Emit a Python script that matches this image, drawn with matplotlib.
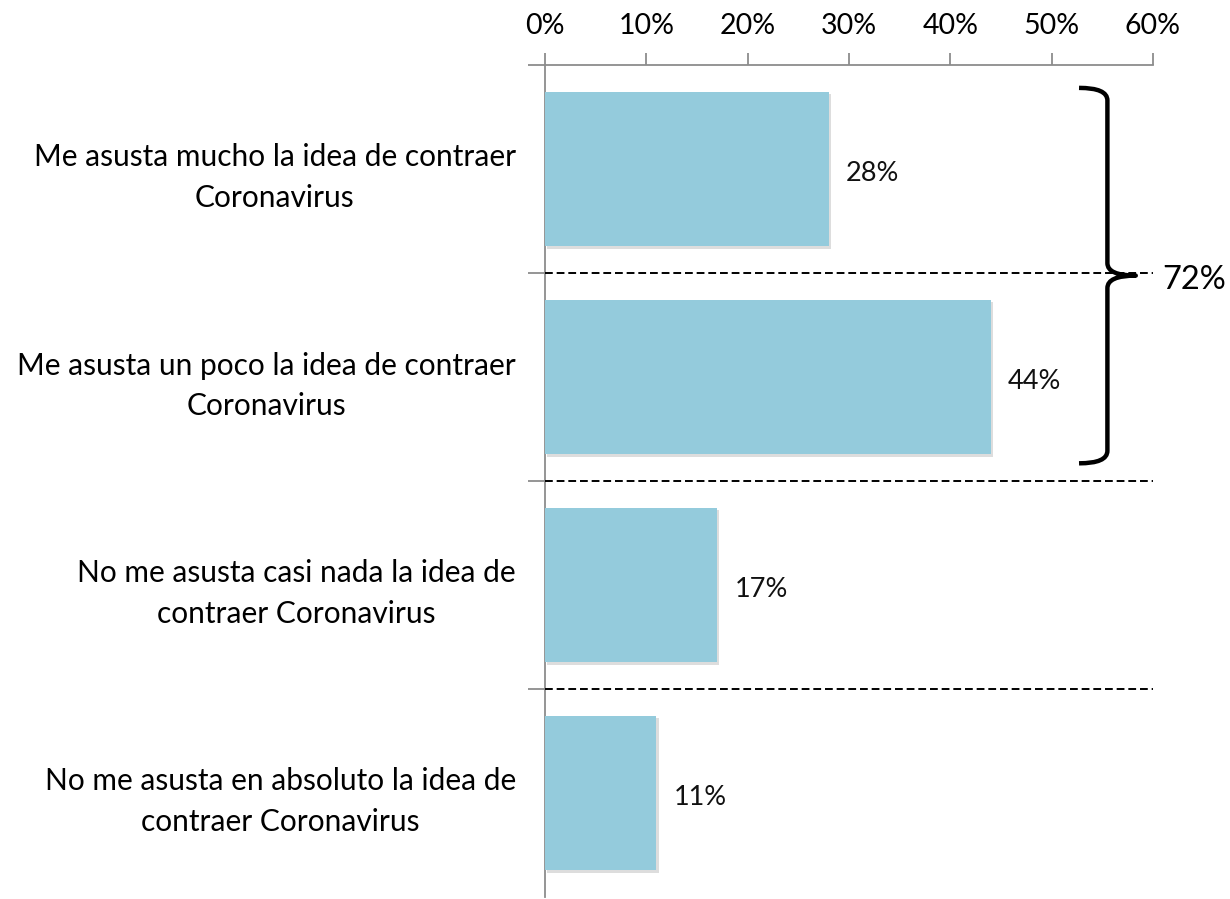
import matplotlib
matplotlib.use("Agg")
import matplotlib.pyplot as plt
import matplotlib.patheffects as pe
from matplotlib.path import Path
from matplotlib.patches import PathPatch

labels = [
    "Me asusta mucho la idea de contraer\nCoronavirus",
    "Me asusta un poco la idea de contraer\nCoronavirus",
    "No me asusta casi nada la idea de\ncontraer Coronavirus",
    "No me asusta en absoluto la idea de\ncontraer Coronavirus",
]
values = [0.28, 0.44, 0.17, 0.11]
x_ticks = [0, 0.1, 0.2, 0.3, 0.4, 0.5, 0.6]
tick_labels = ["0%", "10%", "20%", "30%", "40%", "50%", "60%"]
brace_group = [0, 1]  # categories grouped by the brace

plt.rcParams["font.family"] = ["Lato", "DejaVu Sans"]

fig = plt.figure(figsize=(12.3, 8.99), dpi=100)
ax = fig.add_axes([545 / 1230, 2 / 899, 608 / 1230, 832 / 899])

bar_color = "#94cbdc"
axis_color = "#8c8c8c"
ypos = list(range(len(values)))

bars = ax.barh(ypos, values, height=0.745, color=bar_color, zorder=3)
for b in bars:
    b.set_path_effects([pe.SimplePatchShadow(offset=(1.5, -1.5), shadow_rgbFace="#a0a0a0", alpha=0.35), pe.Normal()])

for y, v in zip(ypos, values):
    ax.text(v + 0.017, y + 0.02, f"{v * 100:.0f}%", va="center", ha="left", fontsize=19.5, color="#111111")

ax.set_xlim(0, 0.6)
ax.set_ylim(len(values) - 0.5, -0.5)
ax.xaxis.tick_top()
ax.set_xticks(x_ticks)
ax.set_xticklabels(tick_labels, fontsize=20.5)
ax.tick_params(axis="x", direction="out", length=9, width=1.3, color=axis_color, pad=10)

ax.set_yticks(ypos)
ax.set_yticklabels(labels, fontsize=21.5, multialignment="center", linespacing=1.55)
ax.tick_params(axis="y", length=0, pad=21)
ax.set_yticks([i - 0.5 for i in range(len(values))], minor=True)
ax.tick_params(axis="y", which="minor", direction="out", length=12, width=1.3, color=axis_color)

for s in ["right", "bottom"]:
    ax.spines[s].set_visible(False)
for s in ["top", "left"]:
    ax.spines[s].set_color(axis_color)
    ax.spines[s].set_linewidth(1.3)

# dashed separators between categories
for i in range(1, len(values)):
    ax.plot([0, 0.6], [i - 0.5, i - 0.5], ls=(0, (4, 2)), lw=1.4, color="black", zorder=4, clip_on=False)

# brace around the first group
y_top = brace_group[0] - 0.5 + 0.11
y_bot = brace_group[-1] + 0.5 - 0.085
y_mid = (y_top + y_bot) / 2
x0, x1, xt = 0.527, 0.555, 0.583
r = 0.06
verts = [
    (x0, y_top), (x1, y_top), (x1, y_top + r),
    (x1, y_mid - r),
    (x1, y_mid), (xt, y_mid),
    (x1, y_mid), (x1, y_mid + r),
    (x1, y_bot - r),
    (x1, y_bot), (x0, y_bot),
]
codes = [Path.MOVETO, Path.CURVE3, Path.CURVE3, Path.LINETO, Path.CURVE3, Path.CURVE3,
         Path.CURVE3, Path.CURVE3, Path.LINETO, Path.CURVE3, Path.CURVE3]
brace = PathPatch(Path(verts, codes), fill=False, lw=3.2, edgecolor="black",
                  capstyle="butt", joinstyle="round", clip_on=False, zorder=5)
ax.add_patch(brace)

total = sum(values[i] for i in brace_group)
ax.text(0.609, y_mid + 0.02, f"{total * 100:.0f}%", fontsize=23.5, va="center", ha="left", clip_on=False)

fig.savefig("out.png", dpi=100)
